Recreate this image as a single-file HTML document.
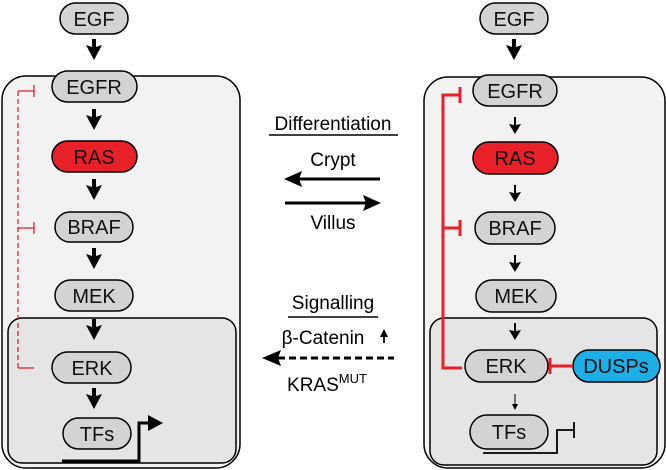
<!DOCTYPE html>
<html><head><meta charset="utf-8"><style>body{margin:0;background:#fff}svg{display:block}</style></head><body>
<svg width="666" height="470" viewBox="0 0 666 470" xmlns="http://www.w3.org/2000/svg" font-family="Liberation Sans, Arial, sans-serif">
<!-- LEFT -->
<rect x="2" y="76" width="238" height="392" rx="24" fill="#f2f2f2" stroke="#000" stroke-width="1.5"/>
<rect x="8" y="318" width="228" height="145" rx="14" fill="#e5e5e5" stroke="#000" stroke-width="1.5"/>
<g stroke="#000" stroke-width="1.5">
<rect x="60" y="3" width="68" height="31" rx="15.5" fill="#d3d3d3"/>
<rect x="52" y="71" width="85" height="31" rx="15.5" fill="#d3d3d3"/>
<rect x="52" y="141" width="85" height="31" rx="15.5" fill="#e8202a"/>
<rect x="55" y="212" width="78" height="30" rx="15" fill="#d3d3d3"/>
<rect x="55" y="280" width="78" height="31" rx="15.5" fill="#d3d3d3"/>
<rect x="52" y="352" width="79" height="31" rx="15.5" fill="#d3d3d3"/>
<rect x="63" y="418" width="68" height="31" rx="15.5" fill="#d3d3d3"/>
</g>
<g font-size="20" text-anchor="middle" fill="#111">
<text x="94" y="26">EGF</text><text x="94" y="94">EGFR</text><text x="94" y="164">RAS</text>
<text x="94" y="234">BRAF</text><text x="94" y="303">MEK</text><text x="92" y="375">ERK</text><text x="97" y="441">TFs</text>
</g>
<g fill="#000">
<path d="M92,39 h4 v8 l6,-2 -8,15 -8,-15 6,2z"/>
<path d="M92,109 h4 v8 l6,-2 -8,15 -8,-15 6,2z"/>
<path d="M92,179 h4 v8 l6,-2 -8,15 -8,-15 6,2z"/>
<path d="M92,248 h4 v8 l6,-2 -8,15 -8,-15 6,2z"/>
<path d="M92,319 h4 v8 l6,-2 -8,15 -8,-15 6,2z"/>
<path d="M92,388 h4 v8 l6,-2 -8,15 -8,-15 6,2z"/>
</g>
<path d="M62,461 H139 V423 H150" fill="none" stroke="#000" stroke-width="3"/>
<path d="M148,415 L163,423 L148,431 Z" fill="#000"/>
<g stroke="#e8202a" stroke-width="1.3" fill="none">
<path d="M18,91 V368" stroke-dasharray="5,3"/>
<path d="M18,91 H34 M18,228 H34 M18,368 H34 M34,85 V97 M34,222 V234"/>
</g>
<!-- MIDDLE -->
<g font-size="19" text-anchor="middle" fill="#000">
<text x="333" y="130">Differentiation</text>
<text x="333" y="166">Crypt</text>
<text x="333" y="229">Villus</text>
<text x="333" y="309">Signalling</text>
<text x="323" y="344">β-Catenin</text>
<text x="327" y="391">KRAS<tspan font-size="13" dy="-8">MUT</tspan></text>
</g>
<g stroke="#000" stroke-width="1.5"><path d="M269,135 H398 M288,317 H378"/></g>
<path d="M384,332 V343" stroke="#000" stroke-width="1.8"/><path d="M380,337 L384,329 L388,337Z" fill="#000"/>
<path d="M298,179 H380" stroke="#000" stroke-width="3"/><path d="M284,179 L302,171 L299,179 L302,187Z" fill="#000"/>
<path d="M285,203 H367" stroke="#000" stroke-width="3"/><path d="M381,203 L363,195 L366,203 L363,211Z" fill="#000"/>
<path d="M278,358 H394" stroke="#000" stroke-width="3" stroke-dasharray="7,4"/><path d="M262,358 L281,350 L278,358 L281,366Z" fill="#000"/>
<!-- RIGHT -->
<rect x="424" y="77" width="241" height="391" rx="24" fill="#f2f2f2" stroke="#000" stroke-width="1.5"/>
<rect x="430" y="318" width="227" height="147" rx="14" fill="#e5e5e5" stroke="#000" stroke-width="1.5"/>
<g stroke="#000" stroke-width="1.5">
<rect x="480" y="3" width="68" height="31" rx="15.5" fill="#d3d3d3"/>
<rect x="473" y="75" width="84" height="31" rx="15.5" fill="#d3d3d3"/>
<rect x="473" y="142" width="85" height="32" rx="16" fill="#e8202a"/>
<rect x="475" y="212" width="80" height="32" rx="16" fill="#d3d3d3"/>
<rect x="476" y="280" width="80" height="32" rx="16" fill="#d3d3d3"/>
<rect x="465" y="350" width="83" height="32" rx="16" fill="#d3d3d3"/>
<rect x="573" y="350" width="87" height="32" rx="16" fill="#1eaee6"/>
<rect x="470" y="415" width="78" height="34" rx="17" fill="#d3d3d3"/>
</g>
<g font-size="20" text-anchor="middle" fill="#111">
<text x="514" y="26">EGF</text><text x="515" y="98">EGFR</text><text x="515" y="165">RAS</text>
<text x="515" y="235">BRAF</text><text x="516" y="303">MEK</text><text x="506" y="373">ERK</text><text x="616" y="373">DUSPs</text><text x="509" y="439">TFs</text>
</g>
<g fill="#000">
<path d="M512,39 h4 v8 l6,-2 -8,15 -8,-15 6,2z"/>
<path d="M514,117 h2 v8 l5,-1 -6,10 -6,-10 5,1z"/>
<path d="M514,185 h2 v8 l5,-1 -6,10 -6,-10 5,1z"/>
<path d="M514,255 h2 v8 l5,-1 -6,10 -6,-10 5,1z"/>
<path d="M514,323 h2 v8 l5,-1 -6,10 -6,-10 5,1z"/>
</g>
<path d="M515,394 V408" stroke="#000" stroke-width="1"/><path d="M512,404 L515,410 L518,404Z" fill="#000"/>
<path d="M483,453 H557 V430 H574 M574,422 V438" fill="none" stroke="#000" stroke-width="1.8"/>
<g stroke="#e8202a" stroke-width="3" fill="none">
<path d="M460,95 H443 V368 H462 M443,228 H460"/>
<path d="M460,87 V103 M460,220 V236"/>
<path d="M573,366 H550 M550,358 V374"/>
</g>
</svg>
</body></html>
